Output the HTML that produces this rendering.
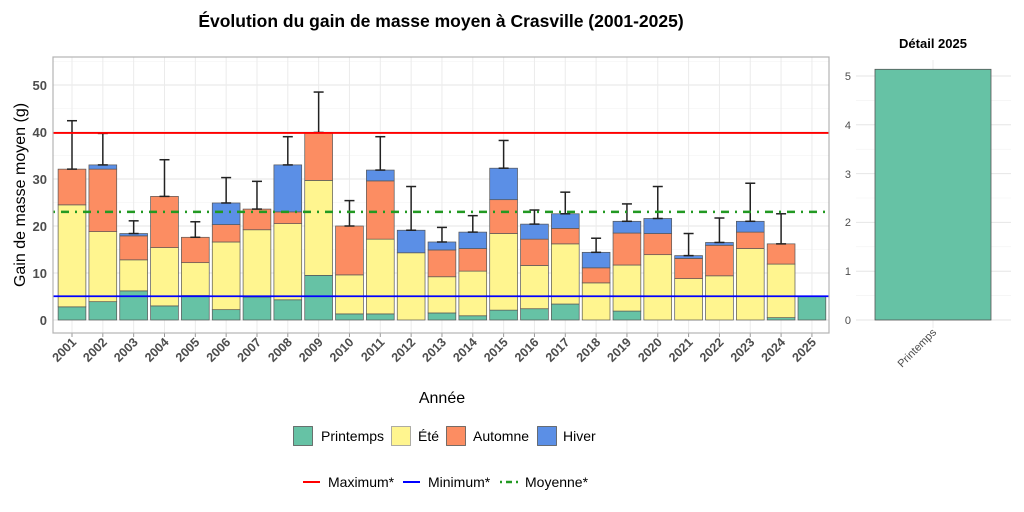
<!DOCTYPE html>
<html><head><meta charset="utf-8"><style>
body{margin:0;background:#fff;}
svg{display:block;font-family:"Liberation Sans",Arial,sans-serif;}
</style></head><body>
<svg id="s" width="1024" height="512" viewBox="0 0 1024 512">
<rect width="1024" height="512" fill="#fff"/>
<text x="441" y="27" text-anchor="middle" font-size="17.5" font-weight="bold" fill="#000">Évolution du gain de masse moyen à Crasville (2001-2025)</text>
<g id="grid"></g>
<g id="bars"></g>
<rect x="53" y="57" width="776" height="276" fill="none" stroke="#b3b3b3" stroke-width="1.2"/>
<g font-size="13" font-weight="bold" fill="#4d4d4d" text-anchor="end">
<text x="47" y="325">0</text><text x="47" y="278">10</text><text x="47" y="231">20</text><text x="47" y="184">30</text><text x="47" y="137">40</text><text x="47" y="90">50</text>
</g>
<text transform="translate(25,195) rotate(-90)" text-anchor="middle" font-size="16" fill="#000">Gain de masse moyen (g)</text>
<g id="xl" font-size="12.5" font-weight="bold" fill="#4d4d4d" text-anchor="end"></g>
<text x="442" y="403" text-anchor="middle" font-size="16" fill="#000">Année</text>
<!-- right panel -->
<text x="933" y="48" text-anchor="middle" font-size="13" font-weight="bold" fill="#000">Détail 2025</text>
<g id="rg"></g>
<rect x="875" y="69.3" width="116" height="250.7" fill="#66c2a5" stroke="#555" stroke-width="0.8"/>
<g font-size="11" fill="#4d4d4d" text-anchor="end">
<text x="851" y="324">0</text><text x="851" y="275">1</text><text x="851" y="226">2</text><text x="851" y="178">3</text><text x="851" y="129">4</text><text x="851" y="80">5</text>
</g>
<text transform="translate(937,333) rotate(-45)" text-anchor="end" font-size="11" fill="#4d4d4d">Printemps</text>
<!-- legend -->
<g font-size="14" fill="#000">
<rect x="293.5" y="426.5" width="19" height="19" fill="#66c2a5" stroke="#555" stroke-width="0.8"/><text x="321" y="441">Printemps</text>
<rect x="391.5" y="426.5" width="19" height="19" fill="#fff58f" stroke="#999" stroke-width="0.8"/><text x="418" y="441">Été</text>
<rect x="446.5" y="426.5" width="19" height="19" fill="#fc8d62" stroke="#555" stroke-width="0.8"/><text x="473" y="441">Automne</text>
<rect x="537.5" y="426.5" width="19" height="19" fill="#5b8fe6" stroke="#555" stroke-width="0.8"/><text x="563" y="441">Hiver</text>
<line x1="303" y1="482" x2="320" y2="482" stroke="#ff0000" stroke-width="2"/><text x="328" y="487">Maximum*</text>
<line x1="403" y1="482" x2="420" y2="482" stroke="#0000ff" stroke-width="2"/><text x="428" y="487">Minimum*</text>
<line x1="500" y1="482" x2="518" y2="482" stroke="#229922" stroke-width="2.5" stroke-dasharray="2 4 6 4"/><text x="525" y="487">Moyenne*</text>
</g>
</svg>
<script>
const NS="http://www.w3.org/2000/svg";
function el(p,t,a){const e=document.createElementNS(NS,t);for(const k in a)e.setAttribute(k,a[k]);document.getElementById(p).appendChild(e);return e;}
const Y=v=>320-v*4.7;
const X=i=>72+i*30.83;
// grid
for(let v=0;v<=55;v+=5){el("grid","line",{x1:53,x2:829,y1:Y(v),y2:Y(v),stroke:v%10==0?"#e6e6e6":"#f2f2f2","stroke-width":v%10==0?1:0.6});}
for(let i=0;i<25;i++){el("grid","line",{x1:X(i),x2:X(i),y1:57,y2:333,stroke:"#ebebeb","stroke-width":1});}
for(let v=0;v<=5.25;v+=0.5){el("rg","line",{x1:856,x2:1011,y1:320-v*48.8,y2:320-v*48.8,stroke:v%1==0?"#e6e6e6":"#f2f2f2","stroke-width":v%1==0?1:0.6});}
el("rg","line",{x1:933,x2:933,y1:60,y2:328,stroke:"#ebebeb"});
const d=[[2.8,24.5,32.1,32.1,42.4],[3.9,18.8,32.1,33.0,39.7],[6.2,12.8,17.9,18.4,21.1],[3.0,15.4,26.3,26.3,34.1],[5.2,12.2,17.6,17.6,20.9],
[2.2,16.6,20.3,24.9,30.3],[4.9,19.2,23.6,23.6,29.5],[4.3,20.5,23.0,33.0,39.0],[9.5,29.7,39.9,39.9,48.5],[1.3,9.6,20.0,20.0,25.4],
[1.3,17.2,29.6,31.9,39.0],[0,14.3,14.3,19.1,28.4],[1.5,9.2,14.9,16.6,19.7],[0.9,10.4,15.2,18.7,22.2],[2.1,18.4,25.6,32.3,38.2],
[2.4,11.6,17.2,20.4,23.4],[3.4,16.2,19.5,22.6,27.2],[0,7.9,11.1,14.4,17.4],[1.9,11.7,18.5,21.0,24.7],[0,13.9,18.4,21.6,28.4],
[0,8.8,13.1,13.7,18.4],[0,9.4,15.9,16.5,21.7],[0,15.2,18.7,21.0,29.1],[0.5,11.9,16.2,16.2,22.6],[5.1,5.1,5.1,5.1,null]];
const cols=["#66c2a5","#fff58f","#fc8d62","#5b8fe6"];
d.forEach((r,i)=>{let prev=0;const x=X(i)-13.9;
 for(let k=0;k<4;k++){const top=r[k];if(top-prev>0.05){el("bars","rect",{x:x,y:Y(top),width:27.8,height:(top-prev)*4.7,fill:cols[k],stroke:"#555","stroke-width":0.7});}prev=Math.max(prev,top);}
 if(r[4]!=null){const c=X(i);el("bars","line",{x1:c,x2:c,y1:Y(r[3]),y2:Y(r[4]),stroke:"#222","stroke-width":1.5});
  el("bars","line",{x1:c-5,x2:c+5,y1:Y(r[4]),y2:Y(r[4]),stroke:"#222","stroke-width":1.5});
  el("bars","line",{x1:c-5,x2:c+5,y1:Y(r[3]),y2:Y(r[3]),stroke:"#222","stroke-width":1.5});}
 el("bars","line",{x1:X(i),x2:X(i),y1:333,y2:337,stroke:"#999"});
 const t=el("xl","text",{transform:`translate(${X(i)+5},${343}) rotate(-45)`});t.textContent=String(2001+i);
});
el("bars","line",{x1:53,x2:829,y1:Y(39.8),y2:Y(39.8),stroke:"#ff0000","stroke-width":1.8});
el("bars","line",{x1:53,x2:829,y1:Y(5.05),y2:Y(5.05),stroke:"#0000ff","stroke-width":1.8});
el("bars","line",{x1:53,x2:829,y1:Y(23.0),y2:Y(23.0),stroke:"#229922","stroke-width":2.5,"stroke-dasharray":"2 6 8 6"});
</script>
</body></html>
